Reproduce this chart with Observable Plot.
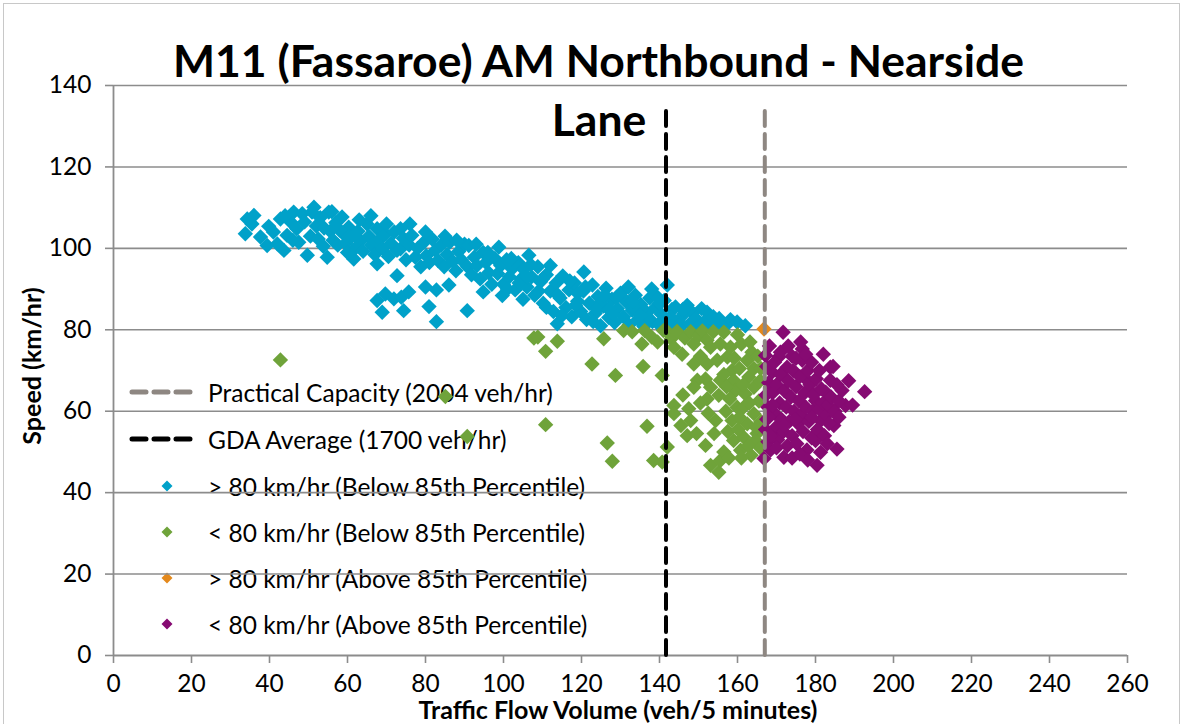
<!DOCTYPE html>
<html>
<head>
<meta charset="utf-8">
<script src="https://cdn.jsdelivr.net/npm/d3@7"></script>
<script src="https://cdn.jsdelivr.net/npm/@observablehq/plot@0.6"></script>
<style>
  html, body { margin: 0; padding: 0; background: #fff; }
  #wrap { position: relative; width: 1185px; height: 724px; overflow: hidden; font-family: Lato, "Open Sans", sans-serif; color: #000; }
  #border { position: absolute; left: 3px; top: 3px; width: 1175px; height: 760px; border: 1.5px solid #c8c8c8; }
  .abs { position: absolute; white-space: nowrap; }
  #title { left: 0; width: 1197px; text-align: center; top: 38px; font-size: 44.5px; font-weight: 700; line-height: 1; }
  #lane { left: 0; width: 1198px; text-align: center; top: 97px; font-size: 44.5px; font-weight: 700; line-height: 1; }
  #ylab { left: 31px; top: 366px; font-size: 25px; font-weight: 700; transform: translate(-50%, -50%) rotate(-90deg); }
  #xlab { left: 618px; top: 709px; font-size: 25px; font-weight: 700; transform: translate(-50%, -50%); }
  .leg { position: absolute; left: 126px; height: 30px; display: flex; align-items: center; font-size: 24.5px; white-space: nowrap; }
  .leg svg { width: 70px; height: 20px; margin-right: 12px; flex: none; }
  #chart { position: absolute; left: 0; top: 0; }
  #chart svg g[aria-label="x-axis tick"], #chart svg g[aria-label="y-axis tick"],
  #chart svg g[aria-label="x-axis tick"] *, #chart svg g[aria-label="y-axis tick"] * { stroke: #8c8c8c !important; stroke-width: 1.6px; }
  #chart svg g[aria-label="x-axis"] .tick line, #chart svg g[aria-label="y-axis"] .tick line { stroke: #8c8c8c; stroke-width: 1.6px; }
  #chart svg g[aria-label="x-axis"] path.domain, #chart svg g[aria-label="y-axis"] path.domain { display: none; }
</style>
</head>
<body>
<div id="wrap">
  <div id="border"></div>
  <div class="abs" id="title">M11 (Fassaroe) AM Northbound - Nearside</div>
  <div class="abs" id="lane">Lane</div>
  <div class="abs" id="ylab">Speed (km/hr)</div>
  <div class="abs" id="xlab">Traffic Flow Volume (veh/5 minutes)</div>
  <div id="legend"></div>
  <div id="chart"></div>
</div>
<script>
// ---- Data (flow in veh/5 minutes, speed in km/hr) ----
const xTicks = [0, 20, 40, 60, 80, 100, 120, 140, 160, 180, 200, 220, 240, 260];
const yTicks = [0, 20, 40, 60, 80, 100, 120, 140];

const gdaAverage = 1700 / 12;        // 1700 veh/hr in veh/5 minutes
const practicalCapacity = 2004 / 12; // 2004 veh/hr in veh/5 minutes
const capacityLineTop = 134.5;

const legendLabels = [
  "Practical Capacity (2004 veh/hr)",
  "GDA Average (1700 veh/hr)",
  "> 80 km/hr (Below 85th Percentile)",
  "< 80 km/hr (Below 85th Percentile)",
  "> 80 km/hr (Above 85th Percentile)",
  "< 80 km/hr (Above 85th Percentile)"
];

// > 80 km/hr (Below 85th Percentile)
const fastBelow = [
[34.3,107.2],[36,108.1],[33.8,103.6],[35.5,106],[37.7,102.8],[39.8,105.4],[39.4,100.7],[42,101.1],[43.7,99.5],[42.8,107.2],
[41,104],[44.5,103.2],[45.5,106.4],[46.2,108.9],[47,104.8],[47.5,101.5],[48.4,108.5],[49,106.5],[49.7,98.3],[50.5,103],
[50.9,108.9],[51.4,110.1],[52,105.5],[52.5,102.3],[53,107.5],[53.8,100.5],[54.8,97.8],[55.2,108.9],[55.6,104.2],[56.3,102],
[57,106.3],[57.5,100.8],[58.6,107.7],[59,103.5],[59.5,101.2],[60.3,105.2],[61.6,97.4],[61,102.8],[62,100],[62.7,104.2],
[63.4,101.8],[64,99.3],[65,106],[65.5,103],[66.2,100.8],[67,98.5],[67.6,104.8],[67.6,96.2],[68.3,102.2],[69,100],
[69.8,103.5],[70.5,98],[71.2,101.2],[72,104],[72.7,93.3],[72.7,99.5],[73.6,104.8],[73.6,99.9],[74.3,102.5],[75,97.2],
[75.8,100.8],[76.5,103.2],[77.4,97.8],[78,100],[78.8,95.5],[79.6,101.5],[80.2,98.2],[81,96.5],[81.7,102.3],[82.5,99.5],
[83.2,97],[84,100.8],[84.8,95.5],[85.5,98.5],[86.2,101.5],[87,96.8],[87.8,94.5],[88.5,99.2],[89.2,97.2],[90,101],
[90.8,95.5],[91.1,100.7],[91.8,93.5],[92.5,97.8],[93.2,95.8],[94,92.5],[94.8,99],[95.5,96.5],[96.2,94],[97,91.2],
[97.8,97.5],[98.8,100.3],[98.5,93.8],[99.3,95.8],[100,91.2],[100.8,97.2],[101.5,93],[102.2,95],[103,89.8],[103.8,96.5],
[104.5,92.5],[105.2,94.8],[106,90.5],[106.5,98.3],[107.2,93],[108,88.5],[108.8,95.5],[109.5,91.8],[110.2,86.5],[111,93.5],
[112,95.8],[112,89.5],[112.8,84.5],[113.5,91.5],[113.8,81.5],[114.5,87.8],[115.2,93.2],[116,85.5],[116.8,89.8],[117.5,83.2],
[118.2,91.5],[119,87],[119.8,84.5],[120.6,94.2],[120.5,89.5],[121.3,82.5],[122,86.5],[122.8,91],[123.5,84],[124.2,88.2],
[124.9,81],[125.6,85.8],[126.3,90.2],[127,83],[127.8,87.5],[128.5,81.8],[129.2,85.2],[130,89],[130.8,83.2],[131.5,86.8],
[132.2,81.2],[133,84.8],[133.8,88.5],[134.5,82.5],[135.2,86.2],[136,80.8],[136.8,84.2],[137.5,87.8],[138.2,82],[139,85.5],
[139.8,81.3],[140.5,83.8],[141.2,87.2],[142,91],[142.5,81],[143.2,85],[144.1,85.6],[144.8,82.2],[145.5,80.8],[146.2,83.8],
[147.1,86],[147.8,81.5],[148.5,84.2],[149.3,82.8],[150,80.7],[150.8,85.2],[151.5,82],[152.2,84.3],[153,80.9],[153.8,83.2],
[154.5,81.5],[155.3,82.8],[156,80.8],[157.4,81.4],[158.2,82.5],[159.9,81.9],[162,81],
[80,90.5],[82.8,89.8],[67.6,87.2],[69.7,88.8],[71.9,87.6],[73.8,88],[75.7,89.3],[68.9,84.3],[74.4,84.7],[80.9,85.7],
[82.8,82],[90.7,84.7],[94.8,89.3],[99.7,88.4],[86,91],
[101,90],[104,91.5],[107,96],[109,89.5],[111,85.5],[114,88.5],[117,92],[118.5,86],[121,90.5],[123,82],
[125,86.8],[128,84],[131,87.5],[134,85],[137,82.8],[139,88.5],[143,83],[146,85],[138,90],[132,90.5],
[126,88.5],[115,83.5],[110,92.5],[105,87.5],[60,99],[58,104.5],[63,107],[70,106],[76,106],[66,108],
[80,104],[85,103],[88,102],[93,101],[96,99],[44,108],[46,102],[54,105],[56,109],
[102,97.5],[106,93],[119,89],[124,85],[129,88],[135,83.5],[140,86.5],[127,85],[133,87],[141,82.5]
];

// < 80 km/hr (Below 85th Percentile)
const slowBelow = [
[42.8,72.6],[85.1,63.6],[90.7,53.8],[107.8,78],[108.8,78.2],[110.8,74.7],[113.8,77.2],[110.8,56.7],[122.7,71.6],[125.7,77.8],
[126.6,52.2],[127.9,47.7],[128.7,68.8],[130.8,79.8],[133,79.5],[135.5,76.5],[135.8,71],[136.2,79.8],[136.8,56.3],[138,78.2],
[138.5,47.9],[139.5,77],[140.7,68.8],[140.7,47.5],[141,79.8],[142,51.2],[142,79.5],[143,77.8],[143.7,61.4],[143.7,59.4],
[143.7,75.7],[144.5,79.6],[145.8,74],[146.5,78],[147.1,54],[147.5,60.6],[148,57.7],[148,79.5],[148.8,76.5],[148.8,71.6],
[149.7,67.6],[148.8,65.9],[150,78.5],[150.5,73.5],[151,79.7],[152.2,77.4],[152.2,71.6],[151.8,67.9],[153.1,65.9],[152.2,63],
[151.8,51.6],[153.1,46.7],[153.1,75.7],[153.8,79.5],[154.4,57.7],[155.2,45],[155.6,47.9],[155.2,63.9],[155.6,67.6],[154.8,72.5],
[155.6,76.5],[156.5,79.4],[157.4,73.3],[158.6,70],[159,67.6],[159.5,65.1],[159.9,61],[158.6,57.7],[159,52.8],[158.2,75.7],
[157,60],[157.5,55],[156.5,50],[160.8,50.4],[161.6,53.6],[162.5,56.9],[161.6,61],[162,64.2],[162.9,68.4],[162.5,72.5],
[163.7,74.5],[164.2,70.5],[164.2,65.9],[164.2,59.4],[165,54.5],[164.6,52.8],[160,78.8],[161,76.5],[165.5,62.5],[166,57.5],
[165.8,67.5],[163.5,49.2],[161,48.5],[166,70.5],[163,62],[160.5,58.5],[158,63],[156.5,69],[154,54.5],[157.8,48.5],
[150.5,62],[152.5,59.5],[146,64],[145.5,56.5],[149.5,54.5],
[160.5,70.5],[161.5,66.5],[163.2,77],[165.2,73.5],[159.2,73],[157.2,66],[165.8,51],[162.8,51.5],[160.2,55.5],[164.8,56]
];

// > 80 km/hr (Above 85th Percentile)
const fastAbove = [[166.8,80.2]];

// < 80 km/hr (Above 85th Percentile)
const slowAbove = [
[171.7,79.4],[167.2,73.7],[170.6,73.3],[176.6,75.3],[176.6,72.5],[172.7,70.8],[168.9,69.6],[183.8,70.8],[183.8,67.6],[177,68.4],
[186.8,65.1],[187.7,61.4],[182.6,64.7],[180,62.6],[181.3,57.7],[184.7,56.5],[180,52.8],[181.3,49.9],[185.5,50.7],[180.4,46.7],
[171.9,48.7],[166.8,48.4],[192.6,64.8],
[167.5,71],[168,67],[167.3,64],[167.8,61],[167.5,58],[167.2,55.5],[167.8,52.5],[168.5,50.5],[169,64.5],[169.5,59.5],
[169.8,56],[170,66.5],[170.3,53],[170.8,62],[171,69],[171.3,58],[171.8,55],[172,65],[172.5,61],[172.8,51.5],
[173,67.5],[173.3,57.5],[173.7,63.5],[174,54],[174.3,70],[174.5,60],[175,66],[175.2,52],[175.5,57],[175.8,62.5],
[176,68.5],[176.3,59],[176.8,55],[177.2,64.5],[177.5,61],[177.8,50.5],[178,70],[178.3,57.5],[178.6,66.5],[179,53.5],
[179.2,60],[179.5,64],[180.2,68],[180.5,55.5],[181,60.5],[181.5,65.5],[182,62],[182.3,54],[182.8,59],[183.2,61.5],
[183.5,57],[184,63.5],[185,60],[186,58.5],[185.5,66.5],[184.5,71],[182,74],[176.2,77],[174,73.5],[169.5,72],
[171,74.5],[173,76],[168,58.5],[169,61.5],[170,51],[172,56.5],[174,48.5],[176,49.5],[178,48],[168.5,54],
[175,73],[179,72],[181,70],[177.5,74],[168.2,76],[186,62.5],[189.5,61.5],[188.5,67.5],[183,52],[179,58.5],[174.8,58]
];

// ---- Styles ----
const colors = { fastBelow: "#00a1c9", slowBelow: "#6fa33a", fastAbove: "#e4891c", slowAbove: "#860a72" };
const capacityColor = "#8e8782";
const gridColor = "#8c8c8c";

// square diamond symbol (rotated square)
const diamond = {
  draw(context, size) {
    const r = Math.sqrt(size / Math.PI) * 1.1;
    context.moveTo(0, -r);
    context.lineTo(r, 0);
    context.lineTo(0, r);
    context.lineTo(-r, 0);
    context.closePath();
  }
};

const series = [
  [fastBelow, colors.fastBelow],
  [slowBelow, colors.slowBelow],
  [fastAbove, colors.fastAbove],
  [slowAbove, colors.slowAbove]
];

const chart = Plot.plot({
  width: 1185,
  height: 724,
  marginLeft: 113,
  marginRight: 58,
  marginTop: 85,
  marginBottom: 69,
  style: { fontFamily: "Lato, 'Open Sans', sans-serif", fontSize: "24.5px", color: "#000", background: "transparent", overflow: "visible" },
  x: { domain: [0, 260], ticks: xTicks, tickSize: 8, tickPadding: 11, label: null, tickFormat: d => String(d) },
  y: { domain: [0, 140], ticks: yTicks, tickSize: 8, tickPadding: 14, label: null, tickFormat: d => String(d) },
  marks: [
    Plot.ruleY(yTicks.filter(d => d > 0), { stroke: gridColor, strokeWidth: 1.6 }),
    Plot.ruleY([0], { stroke: gridColor, strokeWidth: 1.8 }),
    Plot.ruleX([0], { y1: 0, y2: 140, stroke: gridColor, strokeWidth: 1.8 }),
    ...series.map(([data, color]) => Plot.dot(data, { x: d => d[0], y: d => d[1], symbol: diamond, r: 7, fill: color, stroke: "none" })),
    Plot.ruleX([gdaAverage], { y1: 0, y2: capacityLineTop, stroke: "#000", strokeWidth: 4, strokeDasharray: "15 8", strokeLinecap: "round" }),
    Plot.ruleX([practicalCapacity], { y1: 0, y2: capacityLineTop, stroke: capacityColor, strokeWidth: 4, strokeDasharray: "15 8", strokeLinecap: "round" })
  ]
});
document.getElementById("chart").appendChild(chart);

// ---- Legend ----
const legendRowsY = [392, 439, 486, 532, 578, 624];
const swatches = [
  `<svg viewBox="0 0 70 20"><line x1="6" y1="10" x2="64" y2="10" stroke="${capacityColor}" stroke-width="5" stroke-dasharray="14 8" stroke-linecap="round"/></svg>`,
  `<svg viewBox="0 0 70 20"><line x1="6" y1="10" x2="64" y2="10" stroke="#000" stroke-width="5" stroke-dasharray="14 8" stroke-linecap="round"/></svg>`,
  `<svg viewBox="0 0 70 20"><path d="M41,4.5 L46.5,10 L41,15.5 L35.5,10 Z" fill="${colors.fastBelow}"/></svg>`,
  `<svg viewBox="0 0 70 20"><path d="M41,4.5 L46.5,10 L41,15.5 L35.5,10 Z" fill="${colors.slowBelow}"/></svg>`,
  `<svg viewBox="0 0 70 20"><path d="M41,4.5 L46.5,10 L41,15.5 L35.5,10 Z" fill="${colors.fastAbove}"/></svg>`,
  `<svg viewBox="0 0 70 20"><path d="M41,4.5 L46.5,10 L41,15.5 L35.5,10 Z" fill="${colors.slowAbove}"/></svg>`
];
const legend = document.getElementById("legend");
legendLabels.forEach((label, i) => {
  const row = document.createElement("div");
  row.className = "leg";
  row.style.top = (legendRowsY[i] - 15) + "px";
  row.innerHTML = swatches[i] + `<span>${label}</span>`;
  legend.appendChild(row);
});
</script>
</body>
</html>
